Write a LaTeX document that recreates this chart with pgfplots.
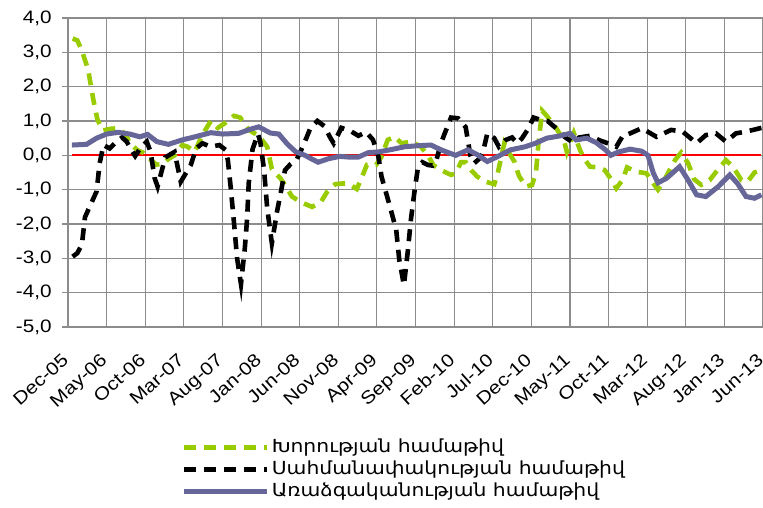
\documentclass[border=0pt]{standalone}
\usepackage{fontspec}
\setmainfont{Liberation Sans}[FakeStretch=1.15]
\newfontfamily\armfont{DejaVu Sans}[FakeStretch=1.13]
\usepackage{pgfplots}
\pgfplotsset{compat=1.18}
\definecolor{gline}{RGB}{153,204,0}
\definecolor{pline}{RGB}{102,102,153}
\definecolor{gridc}{RGB}{140,140,140}
\begin{document}
\begin{tikzpicture}
\begin{axis}[
  name=ax,
  scale only axis,
  width=347.5pt, height=154.5pt,
  xmin=0, xmax=90, ymin=-5, ymax=4,
  axis x line*=bottom, axis y line*=left,
  axis line style={gridc, line width=0.6pt},
  xtick={0,5,...,90},
  xticklabels={Dec-05,May-06,Oct-06,Mar-07,Aug-07,Jan-08,Jun-08,Nov-08,Apr-09,Sep-09,Feb-10,Jul-10,Dec-10,May-11,Oct-11,Mar-12,Aug-12,Jan-13,Jun-13},
  ytick={-5,-4,...,4},
  xmajorgrids, ymajorgrids,
  grid style={gridc, line width=0.55pt},
  x tick style={draw=none},
  y tick style={gridc, line width=0.6pt},
  tick align=outside,
  major tick length=3pt,
  tick label style={font=\fontsize{9}{10}\selectfont},
  xticklabel style={xshift=-3.5pt, yshift=-9.5pt, rotate=42, anchor=north east, inner sep=0pt},
  yticklabel style={inner sep=0pt, xshift=-5pt},
  /pgf/number format/assume math mode=true,
  /pgf/number format/.cd, use comma, fixed, fixed zerofill, precision=1,
  /pgfplots/.cd,
  legend style={at={(0.154,-0.34)}, anchor=north west, draw=none, fill=none,
    font=\armfont\fontsize{9}{10}\selectfont, row sep=0pt,
    nodes={inner sep=1.2pt, text height=6.6pt, text depth=2pt}},
  legend cell align=left,
  legend image code/.code={\draw[#1] (0pt,0pt) -- (41.5pt,0pt);},
]
\addplot[red, line width=1.1pt, forget plot] coordinates {(0.5,0) (89.8,0)};
\addplot[gline, line width=2.3pt, dash pattern=on 6pt off 4pt] coordinates {
(0.6,3.4) (1.2,3.35) (1.8,3.05) (2.6,2.5) (3.3,1.6) (3.8,1.05) (4.5,0.72) (5.4,0.77) (6.5,0.79) (7.5,0.6) (8.0,0.35) (9.0,0.15) (9.7,0.08) (10.6,-0.1) (11.4,-0.27) (12.3,-0.25) (12.9,-0.12) (13.8,0.0) (14.8,0.3) (15.5,0.25) (16.4,0.1) (17.4,0.6) (18.5,1.0) (19.4,0.8) (20.4,0.95) (21.5,1.15) (22.3,1.1) (23.4,0.74) (24.7,0.57) (25.8,0.25) (26.4,-0.4) (27.5,-0.67) (28.1,-0.86) (29.0,-1.2) (30.3,-1.38) (31.6,-1.5) (32.7,-1.38) (33.5,-1.08) (34.6,-0.84) (35.5,-0.82) (36.3,-0.82) (37.4,-0.98) (38.0,-0.67) (38.7,-0.28) (39.9,-0.28) (40.6,-0.04) (41.4,0.45) (42.3,0.54) (43.2,0.35) (44.5,0.4) (45.7,0.25) (46.6,0.0) (47.3,-0.28) (48.3,-0.43) (49.6,-0.57) (50.2,-0.52) (50.9,-0.2) (51.5,-0.2) (52.2,-0.43) (53.0,-0.62) (54.1,-0.77) (55.2,-0.84) (55.6,-0.57) (56.5,0.35) (57.3,0.0) (57.8,-0.18) (58.4,-0.6) (59.3,-0.91) (60.1,-0.86) (60.6,-0.5) (60.9,0.3) (61.4,1.3) (62.0,1.15) (63.1,0.83) (64.2,0.45) (64.6,0.1) (65.5,0.65) (66.3,0.16) (66.8,-0.09) (67.6,-0.33) (68.7,-0.35) (69.5,-0.43) (70.4,-0.72) (71.0,-0.96) (71.8,-0.72) (72.4,-0.35) (73.6,-0.48) (74.9,-0.52) (75.8,-0.82) (76.4,-1.0) (77.1,-0.77) (77.9,-0.43) (78.6,-0.14) (79.4,0.08) (80.3,-0.23) (81.1,-0.7) (82.0,-0.86) (83.1,-0.72) (84.1,-0.43) (85.2,-0.14) (86.1,-0.33) (87.2,-0.72) (88.0,-0.77) (88.9,-0.5) (89.8,-0.43)
};
\addlegendentry{Խորության համաթիվ}
\addplot[black, line width=2.3pt, dash pattern=on 6pt off 4pt] coordinates {
(0.6,-2.95) (1.2,-2.85) (1.8,-2.6) (2.2,-1.8) (3.0,-1.4) (3.7,-1.05) (4.1,-0.23) (4.6,0.3) (5.4,0.2) (6.2,0.38) (7.0,0.52) (7.6,0.4) (8.2,0.15) (8.7,-0.02) (9.4,0.22) (10.2,0.4) (10.7,0.1) (11.2,-0.65) (11.6,-0.91) (12.6,-0.06) (13.8,0.1) (14.6,-0.77) (15.9,-0.28) (16.6,0.2) (17.4,0.35) (18.5,0.25) (19.6,0.3) (20.4,0.16) (20.7,-0.14) (21.1,-1.0) (21.5,-1.98) (21.9,-3.0) (22.4,-3.75) (22.9,-2.7) (23.2,-1.83) (23.4,-0.82) (23.9,0.18) (24.6,0.62) (24.9,0.4) (25.4,-0.45) (25.8,-1.55) (26.4,-2.56) (27.1,-1.6) (27.5,-1.15) (28.1,-0.43) (28.8,-0.26) (29.6,-0.13) (30.5,0.3) (31.4,0.8) (32.3,1.0) (33.2,0.85) (33.9,0.54) (34.4,0.35) (35.4,0.8) (36.5,0.72) (37.6,0.57) (38.6,0.68) (39.5,0.45) (40.2,-0.04) (40.6,-0.62) (41.7,-1.5) (42.5,-2.17) (42.9,-3.05) (43.5,-3.78) (44.0,-2.8) (44.4,-1.88) (44.9,-1.0) (45.3,-0.38) (45.9,-0.2) (46.6,-0.28) (47.2,-0.3) (47.7,-0.14) (48.3,0.35) (48.7,0.59) (49.6,1.1) (50.5,1.08) (51.5,0.82) (52.1,0.0) (52.6,-0.23) (53.3,-0.09) (53.7,0.06) (54.3,0.64) (55.2,0.5) (55.8,0.25) (56.7,0.45) (57.5,0.52) (58.2,0.35) (58.8,0.5) (59.5,0.74) (60.3,1.1) (61.2,1.03) (62.1,1.0) (63.2,0.79) (64.3,0.54) (65.2,0.4) (66.2,0.52) (67.6,0.57) (68.9,0.43) (70.2,0.33) (71.0,0.25) (71.9,0.59) (72.4,0.6) (74.3,0.79) (76.2,0.54) (78.1,0.74) (79.6,0.69) (81.4,0.35) (82.6,0.59) (83.9,0.64) (85.2,0.4) (86.5,0.64) (87.8,0.69) (89.8,0.8)
};
\addlegendentry{Սահմանափակության համաթիվ}
\addplot[pline, line width=2.5pt] coordinates {
(0.5,0.3) (2.4,0.32) (3.7,0.5) (5.0,0.62) (6.5,0.67) (8.0,0.62) (9.3,0.54) (10.3,0.61) (11.5,0.4) (13.0,0.32) (14.8,0.45) (16.1,0.52) (18.5,0.66) (20.0,0.62) (22.1,0.64) (23.6,0.76) (24.7,0.83) (26.2,0.65) (27.3,0.62) (28.4,0.33) (29.5,0.1) (30.7,0.0) (31.5,-0.1) (32.4,-0.2) (33.7,-0.1) (35.2,-0.03) (36.3,-0.05) (37.6,-0.05) (38.9,0.08) (40.2,0.1) (41.9,0.17) (43.6,0.25) (45.3,0.28) (47.0,0.3) (48.3,0.16) (50.2,0.0) (51.8,0.16) (53.0,0.02) (54.3,-0.18) (55.6,-0.04) (57.3,0.16) (59.2,0.25) (60.5,0.35) (62.0,0.5) (63.8,0.57) (65.0,0.64) (65.8,0.45) (67.2,0.5) (68.4,0.37) (69.6,0.16) (70.3,0.0) (71.3,0.1) (72.8,0.18) (74.3,0.12) (75.1,0.0) (75.8,-0.52) (76.4,-0.8) (77.5,-0.67) (79.2,-0.33) (80.3,-0.72) (81.4,-1.15) (82.6,-1.2) (84.2,-0.91) (85.7,-0.57) (86.7,-0.82) (87.8,-1.2) (88.9,-1.25) (89.8,-1.15)
};
\addlegendentry{Առաձգականության համաթիվ}
\end{axis}
\pgfresetboundingbox
\useasboundingbox ([shift={(-34pt,-90pt)}]ax.south west) rectangle ([shift={(0pt,9pt)}]ax.north east);
\end{tikzpicture}
\end{document}
